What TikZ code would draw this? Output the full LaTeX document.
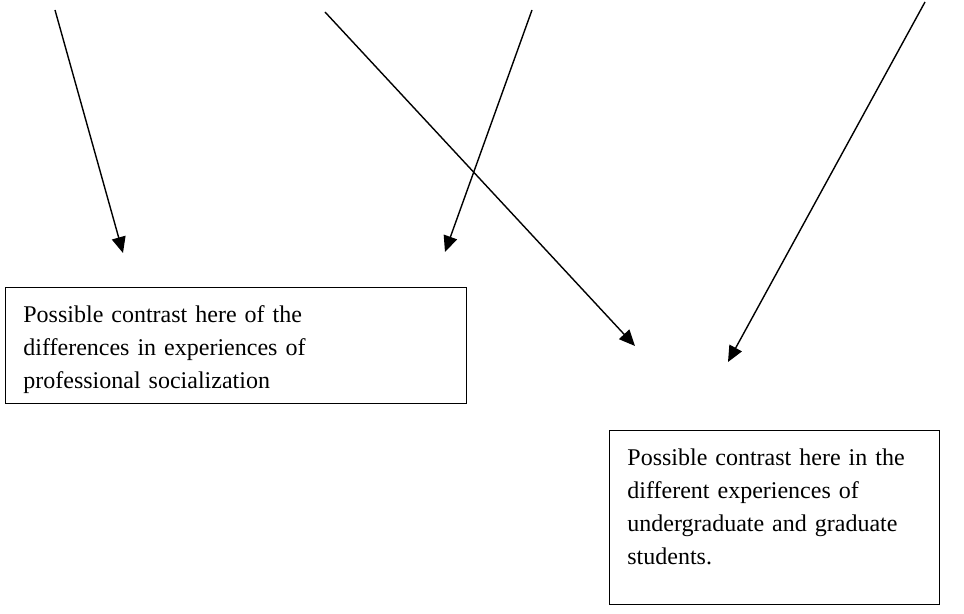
\documentclass[tikz,border=0pt]{standalone}
\usepackage{fontspec}
\setmainfont{Liberation Serif}
\usetikzlibrary{arrows.meta}
\tikzset{
	arr/.style={-{Triangle[length=8pt,width=7pt]}, line width=0.7pt},
	box/.style={draw, line width=0.7pt, anchor=north west, inner sep=0pt},
	txt/.style={anchor=base west, align=left, inner sep=0pt,
		font=\fontsize{12}{16.5}\selectfont},
}
\begin{document}
\begin{tikzpicture}[x=0.5pt, y=-0.5pt]
	\useasboundingbox (0, 0) rectangle (964, 614);

	% the two boxes
	\node[box, minimum width=230.5pt, minimum height=58pt] (box1) at (5, 287) {};
	\node[box, minimum width=165pt, minimum height=87pt] (box2) at (609, 430) {};
	\node[txt, text width=215pt] (note1) at (23, 323)
		{Possible contrast here of the\\ differences in experiences of\\ professional socialization};
	\node[txt, text width=155pt] (note2) at (627, 466)
		{Possible contrast here in the\\ different experiences of\\ undergraduate and graduate\\ students.};

	% arrows coming down from above
	\coordinate (s1) at (55, 10);
	\coordinate (e1) at (123, 253);
	\coordinate (s2) at (325, 12);
	\coordinate (e2) at (635, 346);
	\coordinate (s3) at (532, 10);
	\coordinate (e3) at (445, 252);
	\coordinate (s4) at (925, 2);
	\coordinate (e4) at (728, 362);
	\draw[arr] (s1) -- (e1);
	\draw[arr] (s2) -- (e2);
	\draw[arr] (s3) -- (e3);
	\draw[arr] (s4) -- (e4);
\end{tikzpicture}
\end{document}
